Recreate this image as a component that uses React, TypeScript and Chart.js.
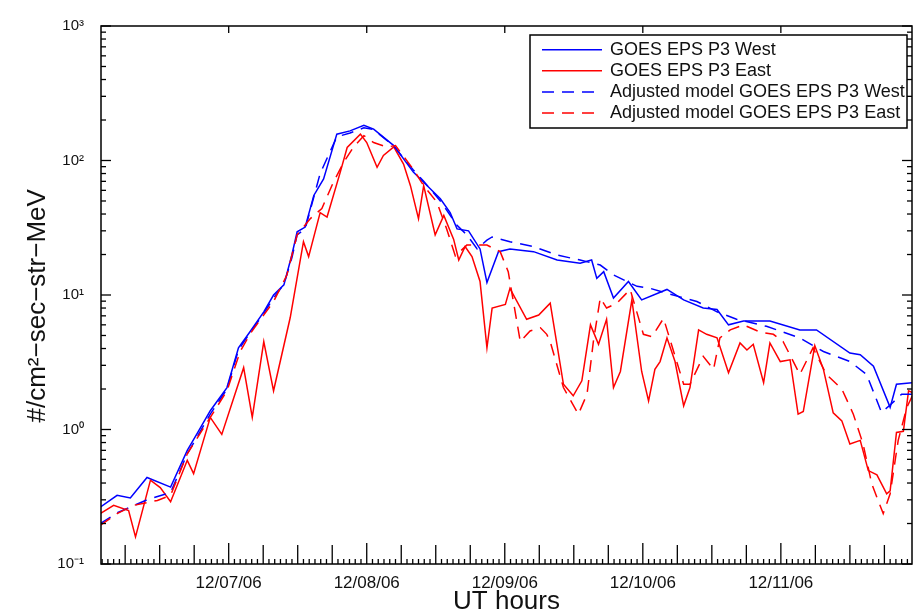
import React, { useEffect, useRef } from 'react';
import { Chart, registerables } from 'chart.js';

Chart.register(...registerables);

// ---- axis definitions ----
const dayTickHours = [24, 48, 72, 96, 120];
const dayTickLabels = ['12/07/06', '12/08/06', '12/09/06', '12/10/06', '12/11/06'];
const yDecades = [0.1, 1, 10, 100, 1000];
const yDecadeLabels = ['10⁻¹', '10⁰', '10¹', '10²', '10³'];
const xMinHour = 1.8;
const xMaxHour = 142.8;

const seriesLabels = [
  'GOES EPS P3 West',
  'GOES EPS P3 East',
  'Adjusted model GOES EPS P3 West',
  'Adjusted model GOES EPS P3 East',
];

// ---- data: hours since 12/06/06 00:00 UT, flux ----
const westHours = [1.7, 4.6, 6.9, 9.8, 13.9, 16.8, 18.5, 20.8, 23.7, 25.7, 27.8, 30.1, 31.8, 33.6, 35.0, 35.9, 37.3, 38.8, 40.5, 42.8, 45.1, 47.5, 49.2, 52.7, 56.1, 57.9, 60.8, 62.5, 63.7, 65.7, 67.7, 68.9, 70.9, 72.9, 77.0, 81.1, 85.1, 87.1, 88.0, 89.2, 90.9, 93.5, 95.8, 100.2, 103.1, 106.5, 108.9, 110.9, 113.5, 118.1, 123.3, 126.2, 132.0, 133.8, 136.1, 139.0, 140.1, 143.0];
const westFlux = [0.265, 0.324, 0.31, 0.44, 0.373, 0.70, 0.93, 1.38, 2.05, 4.05, 5.4, 7.5, 10, 11.9, 20, 29.5, 32, 55, 73, 157, 166, 183, 171, 129, 82, 69, 52, 41, 31, 30, 22, 12.4, 21, 22, 21, 18.2, 17.2, 18.2, 13.3, 14.9, 9.5, 12.6, 9.2, 11, 9.2, 8.0, 7.8, 6.0, 6.4, 6.4, 5.5, 5.5, 3.7, 3.6, 2.96, 1.46, 2.17, 2.23];

const eastHours = [1.7, 4.0, 6.6, 7.8, 10.4, 12.1, 13.9, 16.8, 17.9, 20.8, 22.8, 24.9, 26.6, 28.1, 30.1, 31.8, 34.7, 37.0, 37.9, 39.9, 41.1, 43.4, 44.6, 46.9, 48.0, 49.8, 50.9, 52.7, 54.4, 55.6, 57.0, 57.9, 59.9, 61.4, 63.1, 64.0, 65.1, 66.3, 67.7, 68.9, 69.8, 72.1, 72.9, 75.8, 77.9, 79.9, 82.2, 83.9, 85.4, 86.9, 88.3, 89.7, 90.9, 92.1, 94.1, 95.8, 97.0, 98.1, 99.0, 100.2, 101.6, 103.1, 104.2, 105.7, 107.1, 108.9, 110.9, 112.9, 114.1, 115.2, 117.0, 118.1, 119.9, 121.6, 123.0, 123.9, 125.9, 127.4, 129.1, 130.6, 132.0, 133.8, 135.2, 136.7, 138.4, 139.0, 140.1, 141.3, 142.2, 143.0];
const eastFlux = [0.237, 0.273, 0.25, 0.159, 0.42, 0.37, 0.29, 0.59, 0.47, 1.23, 0.92, 1.73, 2.88, 1.23, 4.5, 1.94, 6.8, 24.9, 19.3, 41, 38, 82, 125, 157, 136, 89, 109, 126, 94, 65, 37, 65, 28, 39, 26, 18.2, 22.9, 19.3, 12.6, 4.05, 8.0, 8.5, 11.2, 6.6, 7.1, 8.7, 2.17, 1.78, 2.3, 6.0, 4.3, 6.6, 2.05, 2.7, 9.2, 2.7, 1.63, 2.8, 3.2, 4.8, 3.2, 1.5, 2.05, 5.5, 5.1, 4.8, 2.64, 4.4, 3.9, 4.3, 2.23, 4.4, 3.2, 3.3, 1.3, 1.36, 4.2, 2.8, 1.33, 1.16, 0.78, 0.83, 0.495, 0.46, 0.333, 0.35, 0.95, 0.97, 1.94, 1.87];

const westModelHours = [1.7, 4.6, 9.8, 13.9, 16.8, 20.8, 23.7, 25.7, 27.8, 30.1, 31.8, 33.6, 35.0, 35.9, 37.3, 39.9, 42.8, 45.1, 47.5, 49.2, 52.7, 56.1, 57.9, 60.8, 63.7, 65.4, 67.2, 68.9, 69.8, 72.9, 77.0, 81.1, 85.1, 88.6, 90.9, 95.0, 97.3, 100.2, 105.4, 108.9, 112.3, 117.5, 123.3, 127.4, 132.0, 134.9, 137.5, 139.0, 141.0, 143.0];
const westModelFlux = [0.2, 0.24, 0.3, 0.34, 0.66, 1.3, 2.0, 3.9, 5.3, 7.3, 9.5, 12, 19, 28, 31, 80, 150, 160, 175, 170, 128, 85, 70, 50, 33, 28, 22, 25.6, 27, 24.9, 22.9, 19.8, 18.2, 16.7, 14.1, 11.6, 11.2, 10.3, 8.95, 7.5, 6.6, 5.85, 4.8, 3.8, 3.2, 2.57, 1.34, 1.52, 1.83, 1.83];

const eastModelHours = [1.7, 4.6, 7.5, 11.6, 13.9, 16.8, 20.8, 23.7, 26.0, 27.8, 31.8, 34.1, 35.9, 38.2, 40.2, 42.2, 44.0, 45.7, 47.5, 49.2, 51.5, 53.0, 56.1, 57.9, 60.2, 61.9, 63.4, 65.4, 68.9, 71.2, 72.6, 74.7, 76.4, 78.2, 79.3, 79.9, 82.2, 84.8, 86.3, 87.4, 88.6, 89.7, 91.5, 93.8, 96.1, 97.6, 99.6, 100.7, 103.1, 104.2, 106.5, 108.3, 109.4, 111.2, 113.5, 116.4, 118.7, 120.4, 123.3, 125.6, 127.9, 130.6, 132.6, 134.3, 135.8, 136.9, 137.8, 139.0, 140.4, 141.9, 143.0];
const eastModelFlux = [0.194, 0.237, 0.273, 0.297, 0.324, 0.66, 1.23, 1.94, 3.8, 5.2, 8.95, 14, 28, 37, 44, 69, 97, 126, 153, 136, 126, 129, 86, 65, 49, 31, 19.5, 23.5, 23.5, 21, 14.9, 4.5, 5.4, 5.7, 5.1, 4.5, 2.05, 1.3, 1.83, 4.5, 9.5, 8.0, 8.7, 11, 5.1, 4.9, 6.7, 4.7, 2.17, 2.17, 3.5, 2.8, 4.8, 5.5, 6.0, 5.3, 5.1, 4.5, 2.57, 4.05, 2.57, 2.0, 1.3, 0.78, 0.395, 0.297, 0.237, 0.333, 0.83, 1.46, 1.83];

const FONT = "'Liberation Sans', Arial, Helvetica, sans-serif";

const toPoints = (xs: number[], ys: number[]) => xs.map((x, i) => ({ x, y: ys[i] }));

const framePlugin = {
  id: 'matlabFrame',
  afterDraw(chart: any) {
    const { ctx, chartArea, scales } = chart;
    const { left, right, top, bottom } = chartArea;
    const xs = scales.x;
    const ys = scales.y;
    ctx.save();
    ctx.setLineDash([]);
    ctx.strokeStyle = '#000';
    ctx.lineWidth = 1.3;
    const seg = (x1: number, y1: number, x2: number, y2: number) => {
      ctx.beginPath();
      ctx.moveTo(x1, y1);
      ctx.lineTo(x2, y2);
      ctx.stroke();
    };
    // bottom ticks (hourly)
    for (let h = Math.ceil(xs.min); h <= xs.max; h++) {
      const px = xs.getPixelForValue(h);
      const len = h % 24 === 0 ? 21 : h % 6 === 0 ? 19 : 5;
      seg(px, bottom, px, bottom - len);
    }
    // top ticks (days only)
    for (const h of dayTickHours) {
      const px = xs.getPixelForValue(h);
      seg(px, top, px, top + 7);
    }
    // left / right log ticks
    for (let d = 0; d < yDecades.length; d++) {
      const base = yDecades[d];
      for (let m = 1; m < 10; m++) {
        if (d === yDecades.length - 1 && m > 1) break;
        const py = ys.getPixelForValue(base * m);
        const len = m === 1 ? 10 : 5;
        seg(left, py, left + len, py);
        seg(right, py, right - len, py);
      }
    }
    ctx.lineWidth = 1.5;
    ctx.strokeRect(left, top, right - left, bottom - top);

    // legend
    const bx = right - 382;
    const by = top + 9;
    const bw = 377;
    const bh = 93;
    ctx.fillStyle = '#fff';
    ctx.fillRect(bx, by, bw, bh);
    ctx.lineWidth = 1.5;
    ctx.strokeRect(bx, by, bw, bh);
    ctx.font = `18px ${FONT}`;
    ctx.textBaseline = 'middle';
    ctx.textAlign = 'left';
    chart.data.datasets.forEach((ds: any, i: number) => {
      const ry = by + 14.7 + i * 21.1;
      ctx.strokeStyle = ds.borderColor;
      ctx.lineWidth = ds.borderWidth;
      ctx.setLineDash(ds.borderDash || []);
      seg(bx + 12, ry, bx + 72, ry);
      ctx.setLineDash([]);
      ctx.fillStyle = '#111';
      ctx.fillText(ds.label, bx + 80, ry);
    });
    ctx.restore();
  },
};

export default function App() {
  const canvasRef = useRef<HTMLCanvasElement | null>(null);

  useEffect(() => {
    document.body.style.margin = '0';
    const canvas = canvasRef.current;
    if (!canvas) return;
    const chart = new Chart(canvas, {
      type: 'line',
      data: {
        datasets: [
          { label: seriesLabels[0], data: toPoints(westHours, westFlux), borderColor: '#0000ff', borderWidth: 1.5, order: 3 },
          { label: seriesLabels[1], data: toPoints(eastHours, eastFlux), borderColor: '#ff0000', borderWidth: 1.5, order: 2 },
          { label: seriesLabels[2], data: toPoints(westModelHours, westModelFlux), borderColor: '#0000ff', borderWidth: 1.5, borderDash: [12, 8], order: 1 },
          { label: seriesLabels[3], data: toPoints(eastModelHours, eastModelFlux), borderColor: '#ff0000', borderWidth: 1.5, borderDash: [12, 8], order: 0 },
        ] as any,
      },
      options: {
        animation: false,
        responsive: false,
        devicePixelRatio: 1,
        layout: { padding: { left: 0, top: 23, right: 6, bottom: 0 } },
        elements: { point: { radius: 0 }, line: { tension: 0, fill: false } },
        plugins: { legend: { display: false }, tooltip: { enabled: false } },
        scales: {
          x: {
            type: 'linear',
            min: xMinHour,
            max: xMaxHour,
            grid: { display: false, drawTicks: false },
            border: { display: false },
            afterFit: (s: any) => { s.height = 52; },
            afterBuildTicks: (s: any) => { s.ticks = dayTickHours.map((v) => ({ value: v })); },
            ticks: {
              autoSkip: false,
              maxRotation: 0,
              padding: 9,
              color: '#111',
              font: { family: FONT, size: 17 },
              callback: (v: any) => {
                const i = dayTickHours.indexOf(Number(v));
                return i >= 0 ? dayTickLabels[i] : '';
              },
            },
            title: {
              display: true,
              text: 'UT hours',
              color: '#111',
              font: { family: FONT, size: 26, lineHeight: 1 },
              padding: { top: 0, bottom: 1 },
            },
          },
          y: {
            type: 'logarithmic',
            min: 0.1,
            max: 1000,
            grid: { display: false, drawTicks: false },
            border: { display: false },
            afterFit: (s: any) => { s.width = 101; },
            afterBuildTicks: (s: any) => { s.ticks = yDecades.map((v) => ({ value: v })); },
            ticks: {
              autoSkip: false,
              padding: 17,
              color: '#111',
              font: { family: FONT, size: 15 },
              callback: (v: any) => {
                const i = yDecades.findIndex((d) => Math.abs(d - Number(v)) < d * 1e-6);
                return i >= 0 ? yDecadeLabels[i] : '';
              },
            },
            title: {
              display: true,
              text: '#/cm²−sec−str−MeV   ',
              color: '#111',
              font: { family: FONT, size: 26, lineHeight: 1.2 },
              padding: { top: 22, bottom: 0 },
            },
          },
        },
      } as any,
      plugins: [framePlugin],
    });
    return () => chart.destroy();
  }, []);

  return (
    <div style={{ width: 918, height: 616 }}>
      <canvas ref={canvasRef} width={918} height={616} style={{ display: 'block', width: 918, height: 616 }} />
    </div>
  );
}
